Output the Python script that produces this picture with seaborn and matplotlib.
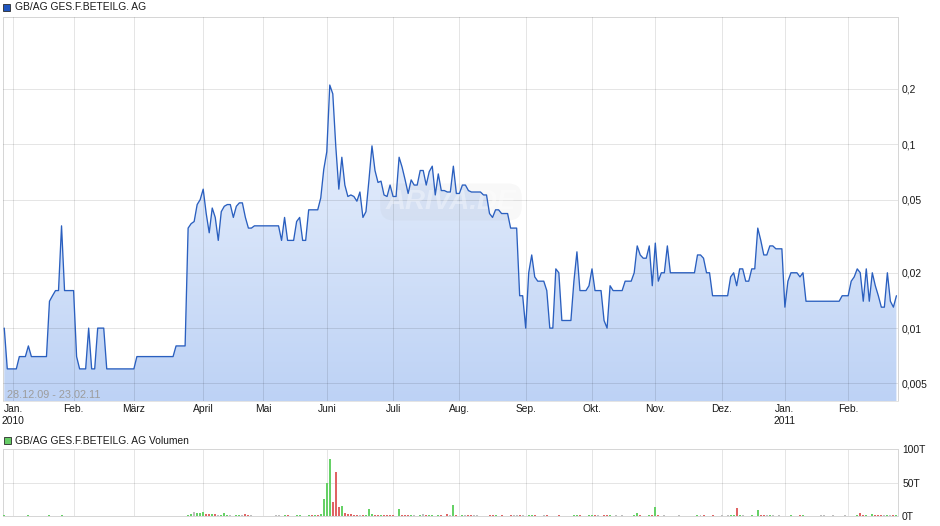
import numpy as np
import pandas as pd
import matplotlib
matplotlib.use("Agg")
import matplotlib.pyplot as plt
import seaborn as sns
from matplotlib.colors import LinearSegmentedColormap
from matplotlib.patches import Rectangle
from matplotlib.ticker import NullLocator

# ---------------- data ----------------
title = "GB/AG GES.F.BETEILG. AG"
volume_title = "GB/AG GES.F.BETEILG. AG Volumen"
period_label = "28.12.09 - 23.02.11"
start_date, end_date = "2009-12-28", "2011-02-23"
holidays = ["2009-12-31", "2010-01-01", "2010-04-02", "2010-04-05",
            "2010-12-24", "2010-12-31"]
month_names = ["Jan.", "Feb.", "März", "April", "Mai", "Juni", "Juli",
               "Aug.", "Sep.", "Okt.", "Nov.", "Dez."]
price_ticks = [0.005, 0.01, 0.02, 0.05, 0.1, 0.2]
price_tick_labels = ["0,005", "0,01", "0,02", "0,05", "0,1", "0,2"]
volume_ticks = [0, 50, 100]
volume_tick_labels = ["0T", "50T", "100T"]

prices = [
    0.010, 0.006, 0.006, 0.006, 0.006, 0.007, 0.007, 0.007, 0.008, 0.007,
    0.007, 0.007, 0.007, 0.007, 0.007, 0.014, 0.015, 0.016, 0.016, 0.036,
    0.016, 0.016, 0.016, 0.016, 0.007, 0.006, 0.006, 0.006, 0.010, 0.006,
    0.006, 0.010, 0.010, 0.010, 0.006, 0.006, 0.006, 0.006, 0.006, 0.006,
    0.006, 0.006, 0.006, 0.006, 0.007, 0.007, 0.007, 0.007, 0.007, 0.007,
    0.007, 0.007, 0.007, 0.007, 0.007, 0.007, 0.007, 0.008, 0.008, 0.008,
    0.008, 0.035, 0.037, 0.038, 0.047, 0.050, 0.057, 0.042, 0.033, 0.045,
    0.040, 0.030, 0.043, 0.046, 0.047, 0.047, 0.040, 0.046, 0.048, 0.048,
    0.040, 0.035, 0.035, 0.036, 0.036, 0.036, 0.036, 0.036, 0.036, 0.036,
    0.036, 0.036, 0.030, 0.040, 0.030, 0.030, 0.030, 0.038, 0.040, 0.030,
    0.030, 0.044, 0.044, 0.044, 0.044, 0.051, 0.073, 0.091, 0.210, 0.188,
    0.097, 0.057, 0.085, 0.060, 0.052, 0.053, 0.052, 0.049, 0.055, 0.040,
    0.043, 0.064, 0.098, 0.072, 0.062, 0.063, 0.053, 0.052, 0.060, 0.052,
    0.052, 0.085, 0.075, 0.064, 0.054, 0.064, 0.060, 0.060, 0.072, 0.072,
    0.060, 0.071, 0.076, 0.053, 0.069, 0.056, 0.056, 0.055, 0.055, 0.076,
    0.054, 0.054, 0.060, 0.060, 0.056, 0.055, 0.055, 0.055, 0.055, 0.053,
    0.053, 0.042, 0.040, 0.044, 0.044, 0.042, 0.042, 0.042, 0.035, 0.035,
    0.035, 0.015, 0.015, 0.010, 0.020, 0.025, 0.019, 0.018, 0.018, 0.018,
    0.016, 0.010, 0.010, 0.021, 0.020, 0.011, 0.011, 0.011, 0.011, 0.018,
    0.026, 0.016, 0.016, 0.016, 0.017, 0.021, 0.016, 0.016, 0.016, 0.011,
    0.010, 0.017, 0.016, 0.016, 0.016, 0.016, 0.018, 0.018, 0.018, 0.020,
    0.028, 0.025, 0.024, 0.024, 0.028, 0.017, 0.029, 0.018, 0.020, 0.020,
    0.028, 0.020, 0.020, 0.020, 0.020, 0.020, 0.020, 0.020, 0.020, 0.020,
    0.025, 0.025, 0.024, 0.020, 0.020, 0.015, 0.015, 0.015, 0.015, 0.015,
    0.015, 0.019, 0.020, 0.017, 0.021, 0.021, 0.018, 0.018, 0.021, 0.021,
    0.035, 0.030, 0.025, 0.025, 0.028, 0.028, 0.027, 0.027, 0.027, 0.013,
    0.018, 0.020, 0.020, 0.020, 0.019, 0.020, 0.014, 0.014, 0.014, 0.014,
    0.014, 0.014, 0.014, 0.014, 0.014, 0.014, 0.014, 0.014, 0.015, 0.015,
    0.015, 0.018, 0.019, 0.021, 0.020, 0.014, 0.021, 0.014, 0.020, 0.017,
    0.015, 0.013, 0.013, 0.020, 0.014, 0.013, 0.015,
]

# volume (thousands) on trading-day number, with direction of the day
vol_day = [0, 8, 15, 19, 61, 62, 63, 64, 65, 66, 67, 68, 69, 70, 71, 72, 73, 74,
           75, 77, 78, 79, 80, 81, 82, 90, 91, 93, 94, 97, 98, 101, 102, 103,
           104, 105, 106, 107, 108, 109, 110, 111, 112, 113, 114, 115, 116,
           117, 118, 119, 120, 121, 122, 123, 124, 125, 126, 127, 128, 129,
           131, 132, 133, 134, 135, 136, 138, 139, 140, 141, 142, 144, 145,
           147, 148, 149, 150, 152, 153, 154, 155, 156, 157, 161, 162, 163,
           165, 168, 169, 170, 171, 172, 174, 175, 176, 179, 180, 184, 189,
           190, 191, 194, 195, 196, 197, 199, 200, 201, 203, 205, 209, 210,
           211, 214, 215, 216, 217, 219, 224, 230, 231, 232, 235, 238, 240,
           241, 242, 243, 244, 245, 248, 250, 251, 252, 253, 254, 255, 257,
           261, 264, 265, 271, 272, 275, 279, 283, 284, 285, 286, 288, 289,
           290, 291, 292, 293, 294, 295, 296]
vol_k = [1.5, 1.5, 2, 1.5, 2, 3.5, 6.5, 5, 5, 6.5, 3.5, 3.5, 3.5, 3.5, 1.5, 2, 5, 2,
         1.5, 1.5, 1.5, 1.5, 3.5, 2, 1.5, 1.5, 1.5, 1.5, 1.5, 1.5, 1.5, 2, 2, 1.5,
         1.5, 4, 26, 50, 86, 21, 66, 14, 15, 5.5, 3.5, 3.5, 2,
         2, 1.5, 1.5, 1.5, 11, 3.5, 2, 1.5, 2, 1.5, 2, 2, 1.5,
         11, 2, 1.5, 1.5, 1.5, 1.5, 2, 3.5, 1.5, 1.5, 2, 1.5, 1.5,
         3.5, 1.5, 17, 2, 2, 1.5, 1.5, 2.5, 1.5, 1.5, 1.5, 1.5, 1.5,
         2, 1.5, 1.5, 1.5, 2, 1.5, 2, 1.5, 1.5, 1.5, 1.5, 1.5, 1.5,
         1.5, 1.5, 1.5, 1.5, 1.5, 1.5, 1.5, 1.5, 1.5, 1.5, 1.5, 1.5, 5,
         1.5, 2, 1.5, 14, 2, 1.5, 1.5, 1.5, 1.5, 1.5, 1.5, 2.5, 1.5,
         2, 2.5, 12, 2, 1.5, 1.5, 9.5, 2, 1.5, 2.5, 2.5, 1.5, 1.5,
         1.5, 1.5, 1.5, 1.5, 1.5, 1.5, 1.5, 1.5, 5, 1.5, 2.5, 4, 1.5,
         2.5, 1.5, 1.5, 2.5, 1.5, 2.5, 1.5]
vol_dir = ["up", "up", "up", "up", "up", "up", "flat", "up", "up", "up", "down", "down", "up", "down", "flat", "up", "up", "up",
           "flat", "up", "up", "flat", "down", "down", "flat", "flat", "flat", "up", "down", "up", "up", "up", "down", "up",
           "down", "up", "up", "up", "up", "down", "down", "down", "up", "down", "down", "down", "down",
           "down", "flat", "down", "up", "up", "up", "down", "down", "up", "down", "down", "down", "down",
           "up", "down", "down", "down", "up", "flat", "up", "flat", "down", "up", "up", "up", "down",
           "down", "flat", "up", "down", "up", "flat", "down", "down", "flat", "flat", "down", "down", "up",
           "down", "down", "flat", "flat", "down", "flat", "up", "up", "down", "flat", "down", "down", "up",
           "up", "down", "up", "up", "down", "flat", "down", "down", "up", "flat", "flat", "up", "up",
           "down", "up", "down", "up", "down", "flat", "flat", "up", "flat", "down", "down", "flat", "flat",
           "up", "up", "down", "up", "flat", "up", "up", "down", "down", "flat", "up", "flat", "flat",
           "up", "down", "up", "flat", "flat", "flat", "flat", "up", "down", "down", "up", "up", "down",
           "down", "down", "flat", "up", "flat", "down", "up"]

# ---------------- frame ----------------
dates = pd.bdate_range(start_date, end_date)
dates = dates[~dates.isin(pd.to_datetime(holidays))]
df = pd.DataFrame({"day": np.arange(len(dates)), "date": dates, "price": prices})

vol = pd.DataFrame({"day": vol_day, "vol": vol_k, "dir": vol_dir})
vdf = df[["day"]].merge(vol, on="day", how="left")
vdf["vol"] = vdf["vol"].fillna(0.0)
vdf["dir"] = vdf["dir"].fillna("flat")

m = df[df["date"] >= pd.Timestamp("2010-01-01")]
firsts = m.groupby([m["date"].dt.year, m["date"].dt.month])["day"].min().reset_index(drop=True)
tick_days, tick_labels = [], []
for d in firsts:
    dt = df.loc[d, "date"]
    lab = month_names[dt.month - 1]
    if dt.month == 1:
        lab += "\n" + str(dt.year)
    tick_days.append(d)
    tick_labels.append(lab)

# ---------------- style ----------------
sns.set_theme(style="white")
plt.rcParams["font.family"] = ["Liberation Sans", "DejaVu Sans"]

W, H = 940, 526
fig = plt.figure(figsize=(W / 100, H / 100), dpi=100)
fig.patch.set_facecolor("white")

px_left, px_right = 3, 897.5
ax = fig.add_axes([px_left / W, 1 - 401 / H, (px_right - px_left) / W, 384 / H])
axv = fig.add_axes([px_left / W, 1 - 516.3 / H, (px_right - px_left) / W, 67 / H])

xlo, xhi = -0.42, 296.36
ylo, yhi = 0.004013, 0.4924
grid_kw = dict(color="black", alpha=0.1, linewidth=0.72)
spine_col = "#d6d6d6"
txt_col = "#1a1a1a"
fs = 7.4

# ---- price panel ----
ax.set_yscale("log")
sns.lineplot(data=df, x="day", y="price", ax=ax, color="#2a5fbf",
             linewidth=0.95, zorder=4)
poly = ax.fill_between(df["day"], df["price"], ylo, facecolor="none",
                       edgecolor="none", zorder=1)
cmap = LinearSegmentedColormap.from_list("g", ["#bdd2f5", "#f7faff"])
grad = np.linspace(0, 1, 256).reshape(-1, 1)
im = ax.imshow(grad, extent=[0, 1, 0, 1], transform=ax.transAxes, cmap=cmap,
               aspect="auto", origin="lower", zorder=1, interpolation="bilinear")
im.set_clip_path(poly.get_paths()[0], ax.transData)

ax.set_xlim(xlo, xhi)
ax.set_ylim(ylo, yhi)
ax.set_yticks(price_ticks)
ax.set_yticklabels(price_tick_labels)
ax.yaxis.set_minor_locator(NullLocator())
ax.yaxis.tick_right()
ax.set_xticks(tick_days)
ax.set_xticklabels(tick_labels)
ax.tick_params(axis="both", length=0, labelsize=fs, colors=txt_col)
ax.tick_params(axis="y", pad=3.3)
ax.tick_params(axis="x", pad=2.5)
ax.set_xlabel("")
ax.set_ylabel("")
ax.set_axisbelow(False)
ax.grid(True, **grid_kw)
ax.set_facecolor("white")
for s in ax.spines.values():
    s.set_color(spine_col)
    s.set_linewidth(0.72)
ax.spines["bottom"].set_color("#e4e4e4")

ax.text((7 - px_left) / (px_right - px_left), 6 / 384, period_label,
        transform=ax.transAxes, ha="left", va="center", fontsize=7.8,
        color="#9c9c9c", zorder=5)
ax.text((451 - px_left) / (px_right - px_left), (401 - 202) / 384, "ARIVA.DE",
        transform=ax.transAxes, ha="center", va="center", fontsize=20,
        fontweight="bold", fontstyle="italic", color="white", alpha=0.35,
        zorder=3,
        bbox=dict(boxstyle="round,pad=0.2,rounding_size=0.5",
                  facecolor="#8a8a8a", edgecolor="none", alpha=0.06))

# ---- volume panel ----
palette = {"up": "#66d166", "down": "#e06464", "flat": "#bdbdbd"}
sns.barplot(data=vdf, x="day", y="vol", hue="dir", palette=palette,
            native_scale=True, dodge=False, width=0.66, errorbar=None,
            legend=False, saturation=1, linewidth=0, ax=axv, zorder=3)
axv.set_xlim(xlo, xhi)
axv.set_ylim(0, 100)
axv.set_yticks(volume_ticks)
axv.set_yticklabels(volume_tick_labels)
axv.yaxis.tick_right()
axv.set_xticks(tick_days)
axv.set_xticklabels([])
axv.tick_params(axis="both", length=0, labelsize=fs, colors=txt_col)
axv.tick_params(axis="y", pad=3.3)
axv.set_xlabel("")
axv.set_ylabel("")
axv.set_axisbelow(True)
axv.grid(True, **grid_kw)
for s in axv.spines.values():
    s.set_color(spine_col)
    s.set_linewidth(0.72)

# ---- legends ----
fig.patches.append(Rectangle((3 / W, 1 - 10.5 / H), 7 / W, 7 / H,
                             transform=fig.transFigure, facecolor="#1f55be",
                             edgecolor="#2a2a2a", linewidth=0.6))
fig.text(15 / W, 1 - 7 / H, title, ha="left", va="center", fontsize=fs,
         color=txt_col)
fig.patches.append(Rectangle((4 / W, 1 - 444 / H), 7 / W, 7 / H,
                             transform=fig.transFigure, facecolor="#66cc66",
                             edgecolor="#2a2a2a", linewidth=0.6))
fig.text(15 / W, 1 - 440.5 / H, volume_title, ha="left", va="center",
         fontsize=fs, color=txt_col)

fig.savefig("out.png", dpi=100, facecolor="white")
